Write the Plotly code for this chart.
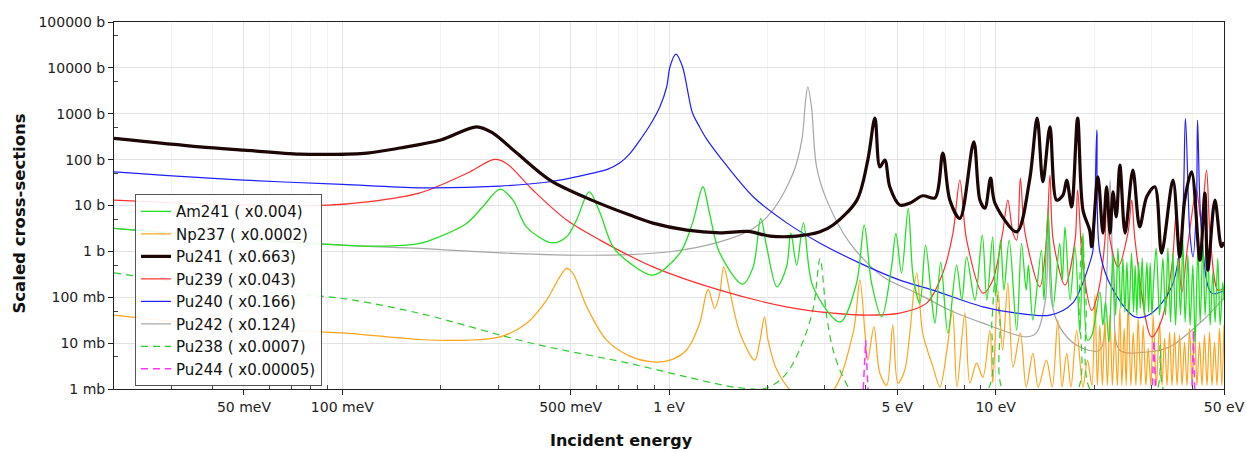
import plotly.graph_objects as go

# ---------------- data (energy in eV, scaled cross-section in barns) ----------------
pu241_E = [0.02, 0.0366, 0.05, 0.0741, 0.0904, 0.119, 0.150, 0.200, 0.258, 0.289, 0.342, 0.432, 0.561, 0.759,
           0.893, 1.135, 1.43, 1.745, 2.04, 2.46, 2.90, 3.18, 3.76, 4.06, 4.27, 4.42, 4.58, 4.74, 5.09, 5.47,
           5.98, 6.52, 6.89, 7.24, 7.77, 8.57, 8.95, 9.27, 9.65, 9.95, 11.6, 12.7, 13.4, 13.95, 14.66, 15.37,
           16.07, 16.5, 17.08, 17.82, 18.5, 19.4, 19.67, 20.56, 21.3, 21.86, 22.4, 22.86, 23.4, 24.0, 24.9,
           26.3, 27.6, 29.0, 30.7, 32.2, 34.9, 36.6, 37.9, 39.8, 42.2, 43.7, 44.6, 46.9, 49.1, 50]
pu241_s = [290, 190, 161, 132, 130, 139, 179, 267, 520, 379, 139, 35.8, 14.5, 6.18, 4.13, 2.90, 2.54, 2.72,
           2.15, 2.15, 2.67, 3.74, 13.1, 97.8, 806, 69.8, 98, 25.6, 10.2, 11.3, 16.3, 14.7, 139, 13.1, 5.23,
           245, 13.1, 8.78, 39.6, 11.3, 2.67, 35.8, 806, 32.9, 520, 13.1, 16.9, 35.8, 9.37, 806, 7.94, 2.90,
           1.26, 42.3, 2.50, 25.6, 2.5, 19.9, 5.67, 76, 2.5, 59.2, 3.43, 15.5, 25.6, 0.92, 35.8, 0.76, 13.1,
           54.3, 0.64, 18.6, 0.39, 13.1, 1.26, 1.6]

pu240_E = [0.02, 0.05, 0.1, 0.173, 0.304, 0.432, 0.585, 0.65, 0.708, 0.759, 0.815, 0.875, 0.938, 0.984, 1.007,
           1.05, 1.10, 1.18, 1.24, 1.30, 1.43, 1.81, 2.30, 2.90, 3.84, 5.09, 6.43, 9.14, 11.6, 14.66, 17.2, 19.4,
           19.85, 20.4, 20.8, 22.6, 26.7, 30.0, 34.6, 37.1, 38.1, 39.3, 40.2, 41.2, 41.5, 42.7, 45.8, 50]
pu240_s = [54.3, 35.8, 28.8, 24.3, 26.5, 32.9, 50.9, 62, 85, 135, 267, 567, 1420, 3880, 10600, 20000, 10600,
           1035, 520, 290, 115, 15.5, 4.13, 1.51, 0.555, 0.236, 0.143, 0.0618, 0.045, 0.0407, 0.0743, 0.555,
           1.06, 441, 1.06, 0.169, 0.0373, 0.045, 0.169, 2.5, 794, 2.5, 0.76, 13.1, 729, 2.5, 0.123, 0.14]

pu239_E = [0.02, 0.05, 0.0904, 0.119, 0.173, 0.240, 0.293, 0.318, 0.383, 0.486, 0.615, 0.893, 1.43, 2.29,
           3.18, 4.03, 5.09, 6.15, 6.89, 7.40, 7.77, 8.15, 9.14, 9.80, 10.5, 10.9, 11.3, 11.6, 11.9, 12.3,
           13.65, 14.3, 14.66, 15.0, 16.3, 17.5, 17.82, 18.5, 19.67, 20.56, 21.6, 21.86, 22.4, 23.7, 25.4,
           26.1, 26.7, 30.0, 32.2, 34.6, 35.8, 37.1, 38.8, 41.2, 42.5, 44.2, 45.3, 47.9, 50]
pu239_s = [13.1, 10.2, 10.2, 12.0, 18.9, 50, 101, 82.8, 21.7, 4.81, 1.76, 0.46, 0.143, 0.0618, 0.045, 0.0407,
           0.045, 0.0743, 0.336, 2.5, 35.8, 1.76, 0.123, 0.236, 2.5, 13.1, 2.5, 1.76, 39.6, 2.5, 0.169, 1.76,
           46, 1.76, 0.184, 1.76, 21.7, 0.46, 0.052, 0.123, 1.76, 25.6, 1.76, 0.46, 2.5, 13.1, 1.76, 0.0137,
           0.0316, 0.46, 7.94, 0.123, 1.51, 21.7, 4.81, 59.2, 2.5, 0.143, 0.16]

pu242_E = [0.02, 0.05, 0.1, 0.173, 0.304, 0.486, 0.759, 1.007, 1.43, 1.81, 2.08, 2.40, 2.55, 2.62, 2.66, 2.73,
           2.83, 3.04, 3.58, 4.52, 5.73, 7.24, 9.14, 12.4, 13.3, 14.2, 14.5, 14.8, 15.7, 17.7, 20.8, 21.7, 22.4,
           23.0, 24.0, 29.0, 34.1, 43.1, 50]
pu242_s = [3.16, 1.98, 1.37, 1.16, 0.93, 0.83, 0.85, 0.98, 1.61, 3.16, 7.94, 50.9, 267, 1990, 3880, 1420,
           69.8, 13.1, 1.51, 0.279, 0.123, 0.052, 0.0272, 0.0137, 0.0165, 0.0865, 9.37, 0.0865, 0.0226, 0.009,
           0.007, 0.0865, 35.8, 0.0865, 0.007, 0.0064, 0.0083, 0.0316, 0.0955]

am241_E = [0.02, 0.05, 0.1, 0.137, 0.173, 0.189, 0.240, 0.269, 0.304, 0.333, 0.366, 0.438, 0.486, 0.521, 0.570,
           0.615, 0.674, 0.759, 0.893, 1.08, 1.18, 1.27, 1.33, 1.43, 1.68, 1.81, 1.91, 1.99, 2.14, 2.29, 2.36,
           2.46, 2.58, 2.76, 3.34, 3.75, 3.96, 4.17, 4.48, 4.80, 4.95, 5.15, 5.40, 5.59, 5.86, 6.10, 6.37, 6.52,
           6.79, 7.14, 7.59, 7.88, 8.15, 8.64, 9.10, 9.40, 9.79, 10.0, 10.35, 10.6, 11.0, 11.6, 12.0, 12.4, 12.6,
           13.0, 13.8, 14.06, 14.45, 15.0, 15.7, 16.0, 16.3, 16.9, 17.5, 18.1, 18.5, 19.1,
           19.70, 20.84, 21.29, 21.70, 22.21, 22.85, 23.29, 23.67, 24.17, 24.52, 24.86, 25.22, 25.57, 26.06,
           26.43, 26.73, 27.06, 27.38, 27.70, 28.09, 28.49, 29.04, 29.39, 29.72, 30.08, 30.44, 31.00, 31.75,
           32.50, 33.12, 33.67, 34.31, 34.87, 35.54, 36.12, 36.81, 37.41, 38.02, 38.75, 39.38, 40.14, 40.80,
           41.59, 42.27, 43.08, 43.78, 44.63, 45.35, 46.22, 46.97, 47.86, 48.65, 49.57, 50]
am241_s = [3.16, 1.82, 1.37, 1.30, 1.49, 1.82, 4.07, 9.37, 22.8, 13.1, 3.43, 1.53, 2.08, 4.81, 19.9, 6.83, 1.26,
           0.555, 0.303, 0.92, 4.13, 25.6, 6.83, 0.92, 0.193, 0.46, 5.23, 1.26, 0.169, 0.46, 2.54, 0.50, 4.2,
           0.169, 0.029, 0.203, 3.74, 0.203, 0.0373, 0.46, 2.46, 0.336, 8.65, 0.279, 0.0743, 1.37, 0.0865,
           0.0272, 0.58, 0.0165, 0.5, 0.0865, 0.76, 0.0865, 2.26, 0.0865, 2.08, 0.106, 1.76, 0.143, 1.76, 0.0191,
           1.49, 0.143, 0.5, 0.0316, 1.06, 0.0865, 7.18, 0.0618, 1.49, 0.236, 3.43, 0.0865, 1.26, 0.0165, 2.5,
           0.0116,
           0.0149, 0.129, 0.0246, 0.078, 0.0105, 0.828, 0.0407, 1.18, 0.0578, 0.713, 0.0473, 0.583, 0.0407, 0.93,
           0.0473, 0.50, 0.0407, 0.583, 0.0578, 0.713, 0.0407, 0.583, 0.0473, 0.56, 0.0407, 0.213, 1.18, 0.0407,
           0.713, 0.0407, 1.18, 0.0286, 0.93, 0.0246, 0.713, 0.0407, 1.76, 0.0286, 0.828, 0.0246, 0.50, 0.0105,
           1.18, 0.0286, 1.37, 0.0407, 1.18, 0.0246, 0.352, 0.0286, 0.713, 0.0246, 0.213, 0.0865]

np237_E = [0.02, 0.05, 0.1, 0.173, 0.24, 0.304, 0.366, 0.422, 0.463, 0.486, 0.508, 0.56, 0.644, 0.759, 0.893,
           1.007, 1.13, 1.24, 1.30, 1.32, 1.38, 1.43, 1.47, 1.54, 1.65, 1.83, 1.90, 1.96, 2.01, 2.14, 2.43, 3.11,
           3.66, 3.84, 3.98, 4.06, 4.24, 4.42, 4.64, 4.84, 5.02, 5.27, 5.73, 5.98, 6.43, 6.75, 7.07, 7.38, 7.61,
           8.05, 8.34, 8.74, 9.14, 9.60, 9.80, 10.16, 10.5, 10.9, 11.3, 11.9, 12.4, 13.0, 13.5, 14.3, 14.9, 15.5,
           15.96, 16.5, 17.0, 17.7, 18.5, 19.1,
           19.7, 20.13, 20.48, 20.84, 21.22, 21.6, 21.98, 22.37, 22.77, 23.17, 23.58, 24.0, 24.34, 24.74, 25.09,
           25.45, 25.94, 26.36, 26.87, 27.3, 27.83, 28.28, 28.83, 29.3, 29.87, 30.35, 31.04, 31.75, 32.31, 32.88,
           33.47, 34.07, 34.67, 35.29, 35.92, 36.56, 37.2, 37.86, 38.53, 39.22, 39.91, 40.62, 41.34, 42.08,
           42.82, 43.58, 44.36, 45.15, 45.95, 46.77, 47.6, 48.45, 49.23, 50]
np237_s = [0.0407, 0.0209, 0.0167, 0.012, 0.0116, 0.0137, 0.0268, 0.0865, 0.279, 0.425, 0.33, 0.0618, 0.0116,
           0.0052, 0.0039, 0.00425, 0.007, 0.0268, 0.121, 0.148, 0.057, 0.121, 0.46, 0.121, 0.0162, 0.00425,
           0.0116, 0.0373, 0.0116, 0.00257, 0.0008, 0.0008, 0.0165, 0.236, 0.0165, 0.00425, 0.0226, 0.0022,
           0.0012, 0.0246, 0.00134, 0.00257, 0.336, 0.0165, 0.003, 0.0011, 0.006, 0.052, 0.0011, 0.045,
           0.00134, 0.00366, 0.0018, 0.019, 0.00134, 0.143, 0.007, 0.203, 0.003, 0.0165, 0.0011, 0.006, 0.0011,
           0.00425, 0.0011, 0.032, 0.0011, 0.006, 0.0011, 0.019, 0.0011, 0.00425,
           0.0012, 0.111, 0.0012, 0.0246, 0.0012, 0.0286, 0.0012, 0.0407, 0.0012, 0.0173, 0.0012, 0.0578, 0.0012,
           0.0212, 0.0012, 0.078, 0.0012, 0.0173, 0.0012, 0.035, 0.0012, 0.0246, 0.0012, 0.0078, 0.0012, 0.0407,
           0.0012, 0.0286, 0.0012, 0.0128, 0.0012, 0.0173, 0.0012, 0.0173, 0.0012, 0.0149, 0.0012, 0.0105,
           0.0012, 0.0212, 0.0012, 0.0246, 0.0012, 0.0105, 0.0012, 0.0149, 0.0012, 0.0173, 0.0012, 0.0105,
           0.0012, 0.0212, 0.0012, 0.0246]

pu238_E = [0.02, 0.05, 0.1, 0.173, 0.383, 0.759, 1.13, 1.61, 1.99, 2.29, 2.58, 2.77, 2.90, 3.04, 3.18, 3.41,
           3.71, 9.27, 9.74, 9.95, 10.3, 10.7, 17.5, 18.0, 18.4, 18.9, 19.85, 30.7, 31.9, 33.2, 50]
pu238_s = [0.34, 0.143, 0.094, 0.0443, 0.0098, 0.0036, 0.00184, 0.00108, 0.00105, 0.00218, 0.0116, 0.0618,
           0.70, 0.0373, 0.007, 0.00184, 0.0008, 0.0008, 0.032, 0.213, 0.032, 0.0008, 0.0008, 0.0865, 2.26,
           0.0865, 0.0008, 0.0008, 0.009, 0.0008, 0.0008]

pu244_E = [3.9, 4.0, 4.1, 30.0, 30.5, 31.0, 39.8, 40.3, 40.8]
pu244_s = [0.0003, 0.0116, 0.0003, 0.0003, 0.0116, 0.0003, 0.0003, 0.019, 0.0003]

x_tickvals = [0.05, 0.1, 0.5, 1, 5, 10, 50]
x_ticktext = ["50 meV", "100 meV", "500 meV", "1 eV", "5 eV", "10 eV", "50 eV"]
x_minor = [0.03, 0.04, 0.06, 0.07, 0.08, 0.09, 0.2, 0.3, 0.4, 0.6, 0.7, 0.8, 0.9,
           2, 3, 4, 6, 7, 8, 9, 20, 30, 40]
y_tickvals = [1e-3, 1e-2, 1e-1, 1, 10, 100, 1e3, 1e4, 1e5]
y_ticktext = ["1 mb", "10 mb", "100 mb", "1 b", "10 b", "100 b", "1000 b", "10000 b", "100000 b"]
y_minor = [5e-3, 5e-2, 5e-1, 5, 50, 500, 5e3, 5e4]

# ---------------- figure ----------------
fig = go.Figure()

def add(name, E, s, color, width, rank, dash=None, shape="spline"):
    fig.add_trace(go.Scatter(
        x=E, y=s, mode="lines", name=name, legendrank=rank,
        line=dict(color=color, width=width, dash=dash, shape=shape,
                  smoothing=0.9 if shape == "spline" else None),
        hoverinfo="skip"))

# drawing order (bottom to top); legend order set by rank
add("Pu242 ( x0.124)", pu242_E, pu242_s, "#a6a6a6", 1.2, 6)
add("Np237 ( x0.0002)", np237_E, np237_s, "#ffa31a", 1.2, 2)
add("Pu238 ( x0.0007)", pu238_E, pu238_s, "#2ecc2e", 1.2, 7, dash="7px,5px")
add("Pu244 ( x0.00005)", pu244_E, pu244_s, "#ff33ff", 1.5, 8, dash="7px,5px", shape="linear")
add("Pu239 ( x0.043)", pu239_E, pu239_s, "#ff3030", 1.2, 4)
add("Pu240 ( x0.166)", pu240_E, pu240_s, "#1f1fff", 1.2, 5)
add("Am241 ( x0.004)", am241_E, am241_s, "#22e022", 1.3, 1)
add("Pu241 ( x0.663)", pu241_E, pu241_s, "#1c0606", 3.2, 3)

FONT = "DejaVu Sans, Verdana, sans-serif"
axis_font = dict(family=FONT, size=14, color="#222")

fig.update_xaxes(
    type="log", range=[-1.69897, 1.69897], automargin=False,
    tickmode="array", tickvals=x_tickvals, ticktext=x_ticktext,
    ticks="outside", ticklen=5, tickcolor="#222", tickfont=axis_font,
    showline=True, linecolor="#222", linewidth=1, mirror=True,
    showgrid=True, gridcolor="#e3e3e3", gridwidth=1, zeroline=False,
    minor=dict(tickmode="array", tickvals=x_minor, ticks="inside", ticklen=4,
               tickcolor="#444", showgrid=True, gridcolor="#f3f3f3", gridwidth=1),
)
fig.update_yaxes(
    type="log", range=[-3, 5], automargin=False,
    tickmode="array", tickvals=y_tickvals, ticktext=y_ticktext,
    ticks="outside", ticklen=5, tickcolor="#222", tickfont=axis_font,
    showline=True, linecolor="#222", linewidth=1, mirror=True,
    showgrid=True, gridcolor="#e3e3e3", gridwidth=1, zeroline=False,
    minor=dict(tickmode="array", tickvals=y_minor, ticks="inside", ticklen=4,
               tickcolor="#444", showgrid=False),
)

fig.update_layout(
    template="none",
    width=1247, height=452,
    margin=dict(l=114, r=23, t=22, b=63, autoexpand=False),
    paper_bgcolor="white", plot_bgcolor="white",
    showlegend=True,
    legend=dict(x=0.0189, y=0.531, xanchor="left", yanchor="top",
                bgcolor="rgba(255,255,255,0.9)", bordercolor="#555", borderwidth=1,
                font=dict(family=FONT, size=15, color="#111"),
                itemwidth=30, tracegroupgap=0),
    annotations=[
        dict(text="<b>Incident energy</b>", xref="paper", yref="paper", x=0.457, y=0,
             yshift=-51, xanchor="center", yanchor="middle", showarrow=False,
             font=dict(family=FONT, size=16, color="#111")),
        dict(text="<b>Scaled cross-sections</b>", xref="paper", yref="paper", x=-0.0847, y=0.478,
             xanchor="center", yanchor="middle", textangle=-90, showarrow=False,
             font=dict(family=FONT, size=16.5, color="#111")),
    ],
)

# remove the browser's default 8px page margin so the figure fills the window exactly
fig.write_html("out.html", config={"displayModeBar": False},
               post_script="document.body.style.margin='0px';")
